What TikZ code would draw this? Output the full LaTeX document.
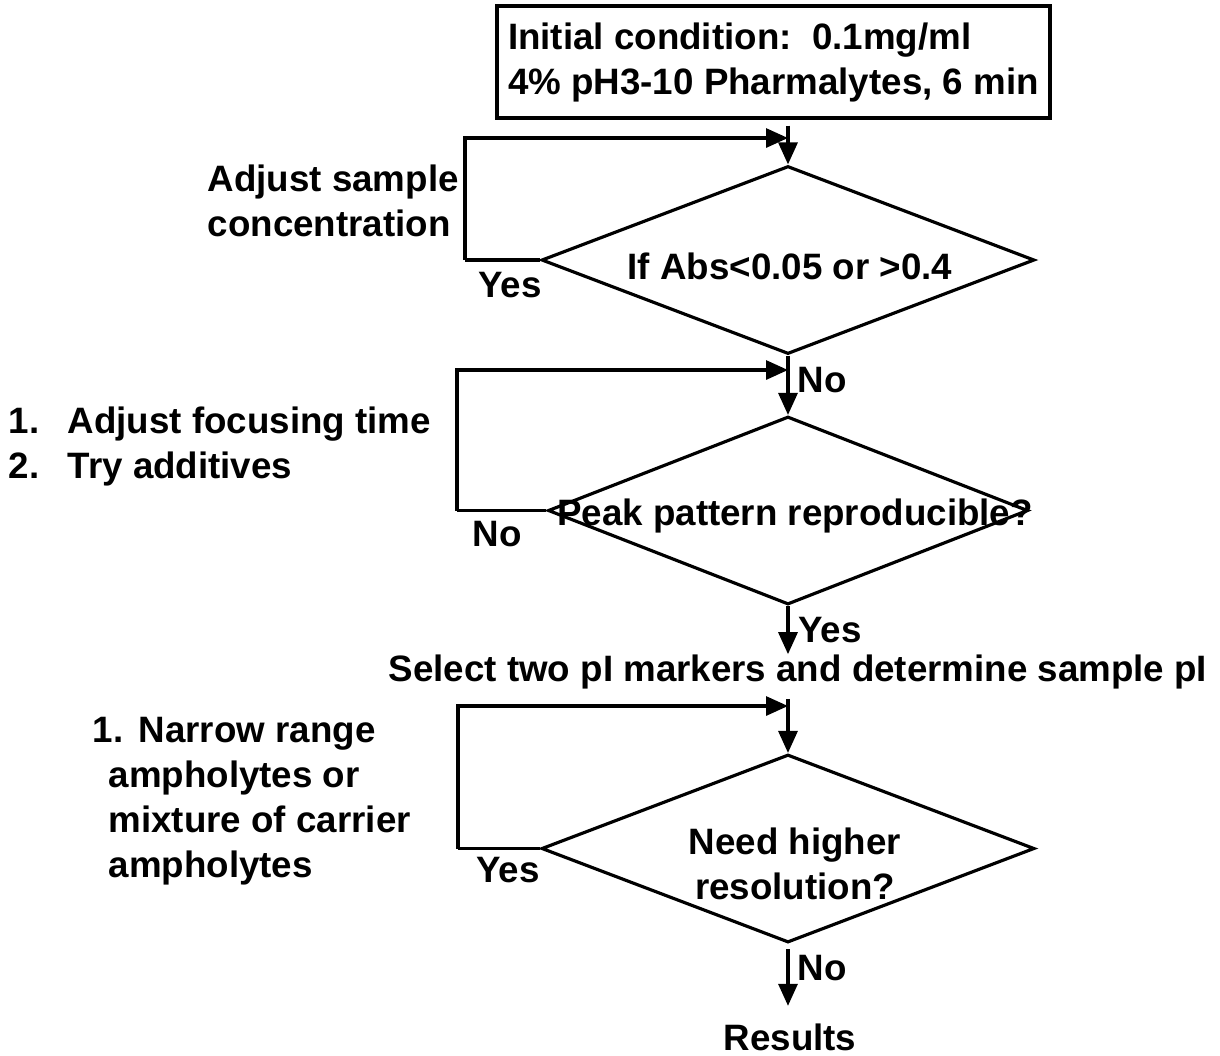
\documentclass[tikz,border=0pt]{standalone}
\usepackage{fontspec}
\setmainfont{Liberation Sans}
\usetikzlibrary{shapes.geometric,arrows.meta}

\begin{document}
\begin{tikzpicture}[
    txt/.style={font=\fontsize{10.45}{12.8}\selectfont\bfseries, inner sep=0pt, align=left},
    dec/.style={diamond, draw, line width=0.9pt, inner sep=0pt, minimum width=#1, minimum height=1.88cm},
    flow/.style={line width=0.9pt, -{Triangle[length=2.2mm,width=1.9mm]}},
    wire/.style={line width=0.9pt}
  ]
  \useasboundingbox (0,0) rectangle (12.2,-10.55);
  % start box
  \node[txt, draw, line width=0.9pt, minimum width=5.53cm, minimum height=1.12cm]
    (init) at (7.735,-0.62) {Initial condition:\ \ 0.1mg/ml\\4\% pH3-10 Pharmalytes, 6 min};
  % decisions
  \node[dec=4.93cm] (d1) at (7.88,-2.60) {};
  \node[txt] (q1) at (7.90,-2.66) {If Abs<0.05 or >0.4};
  \node[dec=4.80cm] (d2) at (7.88,-5.105) {};
  \node[txt] (q2) at (7.95,-5.16) {Peak pattern reproducible?};
  \node[dec=4.93cm] (d3) at (7.88,-8.485) {};
  \node[txt, align=center] (q3) at (7.95,-8.64) {Need higher\\resolution?};
  \node[txt] (sel) at (7.98,-6.72) {Select two pI markers and determine sample pI};
  \node[txt] (res) at (7.90,-10.37) {Results};
  % side notes
  \node[txt, anchor=north west] (n1) at (2.07,-1.64) {Adjust sample\\concentration};
  \node[txt, anchor=north west] (n2) at (0.08,-4.06)
    {\makebox[5.9mm][l]{1.}Adjust focusing time\\\makebox[5.9mm][l]{2.}Try additives};
  \node[txt, anchor=north west] (n3) at (0.92,-7.17)
    {\makebox[4.6mm][l]{1.}Narrow range\\\hspace*{1.6mm}ampholytes or\\\hspace*{1.6mm}mixture of carrier\\\hspace*{1.6mm}ampholytes};
  % branch labels
  \node[txt] (y1) at (5.10,-2.85) {Yes};
  \node[txt] (o1) at (8.22,-3.80) {No};
  \node[txt] (o2) at (4.97,-5.34) {No};
  \node[txt] (y2) at (8.30,-6.30) {Yes};
  \node[txt] (y3) at (5.08,-8.70) {Yes};
  \node[txt] (o3) at (8.22,-9.68) {No};
  % loop corners
  \coordinate (j1) at (7.88,-1.38);
  \coordinate (j2) at (7.88,-3.70);
  \coordinate (j3) at (7.88,-7.06);
  % main line
  \draw[flow, shorten <=0.6mm] (init.south -| d1.north) -- (d1.north);
  \draw[flow] (d1.south) -- (d2.north);
  \draw[flow] (d2.south) -- (sel.north -| d2.south);
  \draw[flow, shorten <=0.9mm] (sel.south -| d3.north) -- (d3.north);
  \draw[flow, shorten <=0.5mm, shorten >=1.7mm] (d3.south) -- (res.north -| d3.south);
  % loops back
  \draw[wire] (d1.west) -- (4.65,-2.60);
  \draw[flow] (4.65,-2.60) |- (j1);
  \draw[wire] (d2.west) -- (4.57,-5.105);
  \draw[flow] (4.57,-5.105) |- (j2);
  \draw[wire] (d3.west) -- (4.58,-8.485);
  \draw[flow] (4.58,-8.485) |- (j3);
\end{tikzpicture}
\end{document}
